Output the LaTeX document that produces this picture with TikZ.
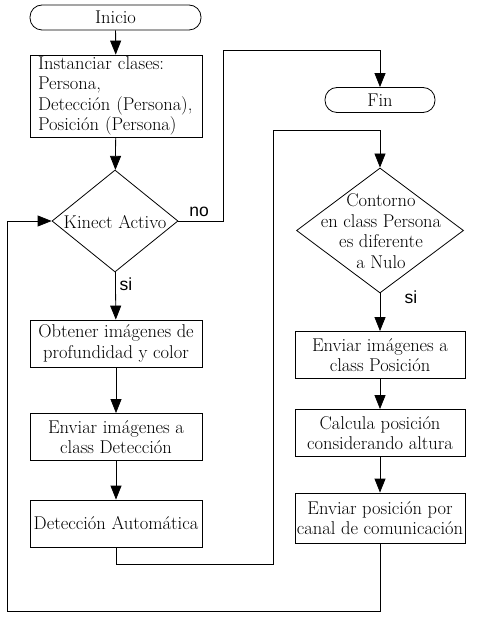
\documentclass[tikz,border=0pt]{standalone}
\usepackage{fontspec}
\usepackage{tikz}
\usetikzlibrary{shapes.geometric,arrows.meta}

\newfontfamily\etiqfont{Liberation Sans}

\begin{document}
\begin{tikzpicture}[x=1pt,y=-1pt,
    font=\fontsize{18.5}{20.5}\selectfont,
    every path/.style={line width=0.8pt},
    flecha/.style={-{Triangle[length=14pt,width=11pt]}},
    terminal/.style={draw,rectangle,rounded corners=12pt,minimum width=171pt,minimum height=25pt,inner sep=0pt},
    proceso/.style={draw,rectangle,minimum width=172pt,minimum height=47pt,inner sep=1pt,align=center},
    decision/.style={draw,diamond,minimum width=126pt,minimum height=102pt,inner sep=0pt},
    etiqueta/.style={font=\etiqfont\fontsize{17.5}{20}\selectfont}]

    \useasboundingbox (0,0) rectangle (476,617);

    \node[terminal] (inicio) at (115.5,17.5) {Inicio};
    \node[proceso,minimum height=82pt,align=left,text width=156pt] (inst) at (116,96)
        {Instanciar clases:\\Persona,\\Detección (Persona),\\Posición (Persona)};
    \node[decision] (kinect) at (115,221) {};
    \node (kinecttxt) at (115,222) {Kinect Activo};
    \node[proceso] (obt) at (116,343.5) {Obtener imágenes de\\profundidad y color};
    \node[proceso] (envdet) at (116,437) {Enviar imágenes a\\class Detección};
    \node[proceso] (autom) at (116,523.5) {Detección Automática};

    \node[terminal,minimum width=110pt] (fin) at (380,100) {Fin};
    \node[decision,minimum width=167pt,minimum height=125pt] (cont) at (380,230.5) {};
    \node[align=center] (conttxt) at (381,231)
        {Contorno\\en class Persona\\es diferente\\a Nulo};
    \node[proceso,minimum width=170pt] (envpos) at (380,355) {Enviar imágenes a\\class Posición};
    \node[proceso,minimum width=170pt] (calc) at (380,433) {Calcula posición\\considerando altura};
    \node[proceso,minimum width=170pt,minimum height=50pt] (canal) at (380,518)
        {Enviar posición por\\canal de comunicación};

    \coordinate (c1) at (223,50);
    \coordinate (c2) at (273,564);
    \coordinate (c3) at (273,130);
    \coordinate (c4) at (7,611);

    \draw[flecha] (inicio) -- (inst);
    \draw[flecha] (inst) -- (kinect);
    \draw[flecha] (kinect.east) -| (c1) -| (fin);
    \node[etiqueta] (no) at (199,212) {no};
    \draw[flecha] (kinect) -- (obt);
    \node[etiqueta] (si1) at (126,284) {si};
    \draw[flecha] (obt) -- (envdet);
    \draw[flecha] (envdet) -- (autom);

    \draw[flecha] (autom) |- (c2) -- (c3) -| (cont);
    \draw[flecha] (cont) -- (envpos);
    \draw[flecha] (envpos) -- (calc);
    \draw[flecha] (calc) -- (canal);
    \node[etiqueta] (si2) at (411,297) {si};

    \draw[flecha] (canal) |- (c4) |- (kinect);

\end{tikzpicture}
\end{document}
